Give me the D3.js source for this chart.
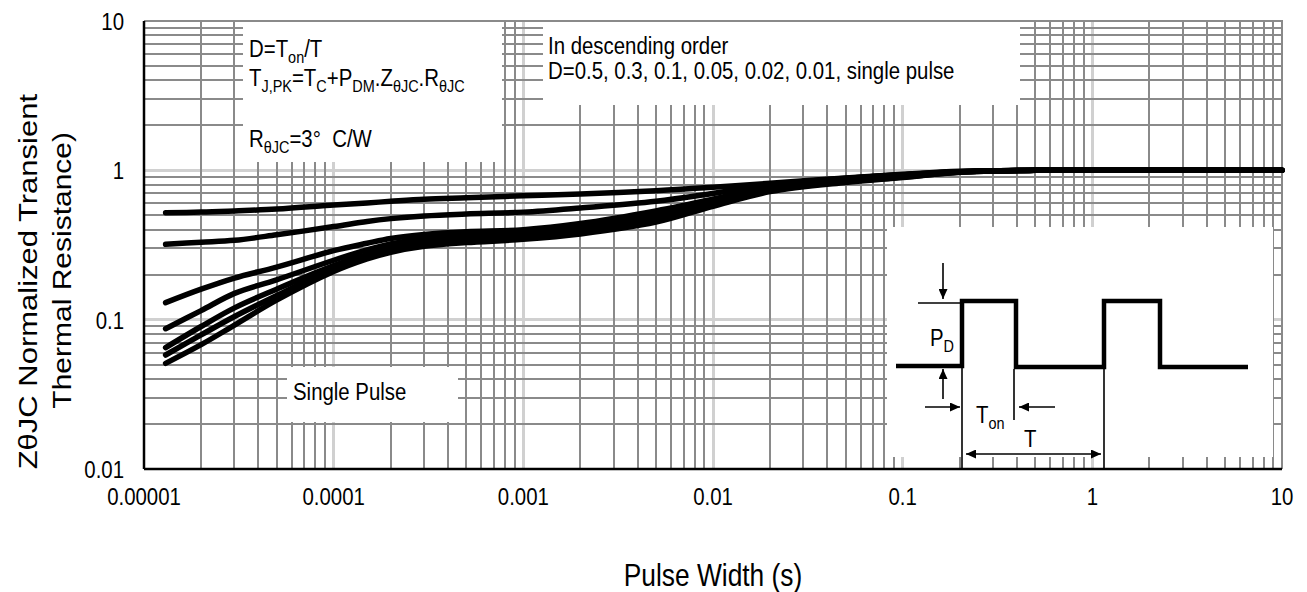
<!DOCTYPE html>
<html>
<head>
<meta charset="utf-8">
<script src="https://d3js.org/d3.v7.min.js"></script>
<style>
  body { margin: 0; background: #fff; }
  text { font-family: Arial, "Liberation Sans", sans-serif; fill: #000; }
</style>
</head>
<body>
<div id="chart"></div>
<script>
// pulse width (s) where the curves were read
var pulseWidth = [1.3e-5, 2e-5, 3e-5, 5e-5, 1e-4, 1.5e-4, 2e-4, 3e-4, 5e-4, 1e-3, 2e-3, 5e-3, 1e-2, 2e-2, 5e-2, 1e-1, 2e-1, 5e-1, 1, 10];

// normalized transient thermal resistance, one array per duty cycle
var zD050 = [0.52, 0.525, 0.535, 0.55, 0.585, 0.605, 0.62, 0.64, 0.655, 0.675, 0.695, 0.73, 0.77, 0.82, 0.89, 0.94, 0.985, 1, 1, 1];
var zD030 = [0.32, 0.33, 0.34, 0.37, 0.42, 0.455, 0.475, 0.495, 0.51, 0.525, 0.56, 0.62, 0.70, 0.80, 0.885, 0.935, 0.98, 1, 1, 1];
var zD010 = [0.13, 0.16, 0.19, 0.225, 0.29, 0.325, 0.35, 0.372, 0.388, 0.40, 0.44, 0.535, 0.64, 0.78, 0.88, 0.935, 0.98, 1, 1, 1];
var zD005 = [0.087, 0.115, 0.15, 0.185, 0.25, 0.293, 0.322, 0.35, 0.367, 0.385, 0.42, 0.51, 0.625, 0.765, 0.87, 0.925, 0.978, 1, 1, 1];
var zD002 = [0.065, 0.09, 0.12, 0.16, 0.23, 0.273, 0.302, 0.33, 0.347, 0.365, 0.40, 0.485, 0.605, 0.745, 0.85, 0.91, 0.975, 1, 1, 1];
var zD001 = [0.058, 0.079, 0.105, 0.145, 0.22, 0.264, 0.292, 0.32, 0.337, 0.355, 0.385, 0.465, 0.59, 0.73, 0.84, 0.90, 0.972, 1, 1, 1];
var zSingle = [0.051, 0.068, 0.092, 0.135, 0.21, 0.255, 0.283, 0.31, 0.328, 0.345, 0.375, 0.45, 0.575, 0.72, 0.83, 0.895, 0.97, 1, 1, 1];

var series = [zD050, zD030, zD010, zD005, zD002, zD001, zSingle];

var xTicks = [1e-5, 1e-4, 1e-3, 1e-2, 1e-1, 1, 10];
var xTickLabels = ["0.00001", "0.0001", "0.001", "0.01", "0.1", "1", "10"];
var yTicks = [0.01, 0.1, 1, 10];
var yTickLabels = ["0.01", "0.1", "1", "10"];

var W = 1307, H = 592;
var margin = { top: 21, right: 25, bottom: 123, left: 144 },
    width = W - margin.left - margin.right,
    height = H - margin.top - margin.bottom;

// text in the source image is squeezed horizontally
var SX = 0.85;

var svg = d3.select("#chart").append("svg")
    .attr("width", W).attr("height", H);

var defs = svg.append("defs");
defs.append("marker")
    .attr("id", "arr")
    .attr("markerUnits", "userSpaceOnUse")
    .attr("markerWidth", 10).attr("markerHeight", 9)
    .attr("refX", 10).attr("refY", 4.5)
    .attr("orient", "auto-start-reverse")
    .append("path").attr("d", "M0,0 L10,4.5 L0,9 Z").attr("fill", "#000");

var g = svg.append("g")
    .attr("transform", "translate(" + margin.left + "," + margin.top + ")");

var x = d3.scaleLog().domain([1e-5, 10]).range([0, width]);
var y = d3.scaleLog().domain([0.01, 10]).range([height, 0]);

// grid
var minorX = [], minorY = [];
for (var e = -5; e < 1; e++) for (var k = 2; k <= 9; k++) minorX.push(k * Math.pow(10, e));
for (var e2 = -2; e2 < 1; e2++) for (var k2 = 2; k2 <= 9; k2++) minorY.push(k2 * Math.pow(10, e2));

var grid = g.append("g").attr("shape-rendering", "crispEdges");
grid.append("g").selectAll("line").data(xTicks.slice(1, -1)).enter().append("line")
    .attr("x1", function (d) { return x(d); }).attr("x2", function (d) { return x(d); })
    .attr("y1", 0).attr("y2", height)
    .attr("stroke", "#d0d0d0").attr("stroke-width", 3);
grid.append("g").selectAll("line").data(yTicks.slice(1, -1)).enter().append("line")
    .attr("y1", function (d) { return y(d); }).attr("y2", function (d) { return y(d); })
    .attr("x1", 0).attr("x2", width)
    .attr("stroke", "#d0d0d0").attr("stroke-width", 3);

grid.append("g").selectAll("line").data(minorX).enter().append("line")
    .attr("x1", function (d) { return x(d); }).attr("x2", function (d) { return x(d); })
    .attr("y1", 0).attr("y2", height)
    .attr("stroke", "#8a8a8a").attr("stroke-width", 2);
grid.append("g").selectAll("line").data(minorY).enter().append("line")
    .attr("y1", function (d) { return y(d); }).attr("y2", function (d) { return y(d); })
    .attr("x1", 0).attr("x2", width)
    .attr("stroke", "#8a8a8a").attr("stroke-width", 2);

// top and right border
grid.append("path")
    .attr("d", "M0," + y(10) + "H" + x(10) + "V" + height)
    .attr("fill", "none").attr("stroke", "#8a8a8a").attr("stroke-width", 2);

// white label boxes (absolute page coords)
var boxes = [
    [243, 22, 259, 140],
    [543, 22, 477, 83],
    [287, 367, 171, 55],
    [887, 227, 386, 230]
];
svg.append("g").selectAll("rect").data(boxes).enter().append("rect")
    .attr("x", function (d) { return d[0]; }).attr("y", function (d) { return d[1]; })
    .attr("width", function (d) { return d[2]; }).attr("height", function (d) { return d[3]; })
    .attr("fill", "#fff");

// curves
var line = d3.line()
    .x(function (d, i) { return x(pulseWidth[i]); })
    .y(function (d) { return y(d); })
    .curve(d3.curveCatmullRom.alpha(0.5));

g.append("g").selectAll("path").data(series).enter().append("path")
    .attr("d", line)
    .attr("fill", "none").attr("stroke", "#000")
    .attr("stroke-width", 5.5).attr("stroke-linecap", "round").attr("stroke-linejoin", "round");

// axes lines
g.append("line").attr("x1", 0).attr("x2", 0).attr("y1", 0).attr("y2", height)
    .attr("stroke", "#000").attr("stroke-width", 2.5);
g.append("line").attr("x1", 0).attr("x2", width).attr("y1", height).attr("y2", height)
    .attr("stroke", "#000").attr("stroke-width", 2.5);

// text helper: parts are strings or {sub: "..."}
function addText(px, py, size, anchor, parts, rotate) {
    var tg = svg.append("g")
        .attr("transform", "translate(" + px + "," + py + ") scale(" + SX + ",1)" + (rotate ? " rotate(-90)" : ""));
    var t = tg.append("text").attr("font-size", size).attr("text-anchor", anchor);
    var shift = Math.round(size * 0.25), inSub = false;
    parts.forEach(function (p) {
        if (typeof p === "string") {
            t.append("tspan").attr("dy", inSub ? -shift : 0).text(p);
            inSub = false;
        } else {
            t.append("tspan").attr("font-size", Math.round(size * 0.72)).attr("dy", inSub ? 0 : shift).text(p.sub);
            inSub = true;
        }
    });
    return t;
}

// tick labels
xTicks.forEach(function (d, i) {
    addText(margin.left + x(d), 505, 24, "middle", [xTickLabels[i]]);
});
yTicks.forEach(function (d, i) {
    addText(124, margin.top + y(d) + 9, 24, "end", [yTickLabels[i]]);
});

// axis titles
addText(713, 586, 31, "middle", ["Pulse Width (s)"]);
addText(37, 94, 31, "end", ["Z\u03b8JC Normalized Transient"], true);
addText(71, 132, 30, "end", ["Thermal Resistance)"], true);

// annotations
addText(249, 57, 24, "start", ["D=T", { sub: "on" }, "/T"]);
addText(249, 86, 24, "start", ["T", { sub: "J,PK" }, "=T", { sub: "C" }, "+P", { sub: "DM" }, ".Z", { sub: "\u03b8JC" }, ".R", { sub: "\u03b8JC" }]);
addText(249, 147, 24, "start", ["R", { sub: "\u03b8JC" }, "=3\u00b0\u00a0\u00a0C/W"]);
addText(548, 54, 24, "start", ["In descending order"]);
addText(548, 79, 24, "start", ["D=0.5, 0.3, 0.1, 0.05, 0.02, 0.01, single pulse"]);
addText(293, 400, 24, "start", ["Single Pulse"]);

// inset: pulse train sketch
var inset = svg.append("g");
inset.append("path")
    .attr("d", "M896,366 H962 V301 H1016 V367 H1104 V301 H1160 V367 H1248")
    .attr("fill", "none").attr("stroke", "#000").attr("stroke-width", 4.5);
function thin(d, arrow) {
    var p = inset.append("path").attr("d", d).attr("fill", "none")
        .attr("stroke", "#000").attr("stroke-width", 1.6);
    if (arrow === "end" || arrow === "both") p.attr("marker-end", "url(#arr)");
    if (arrow === "both") p.attr("marker-start", "url(#arr)");
}
thin("M918,303 H962");
thin("M943,263 V299", "end");
thin("M943,399 V369", "end");
thin("M962,368 V469");
thin("M1014,369 V420");
thin("M1104,368 V469");
thin("M925,407 H960", "end");
thin("M1055,407 H1019", "end");
thin("M966,454 H1101", "both");
addText(930, 346, 24, "start", ["P", { sub: "D" }]);
addText(976, 423, 24, "start", ["T", { sub: "on" }]);
addText(1024, 447, 24, "start", ["T"]);
</script>
</body>
</html>
